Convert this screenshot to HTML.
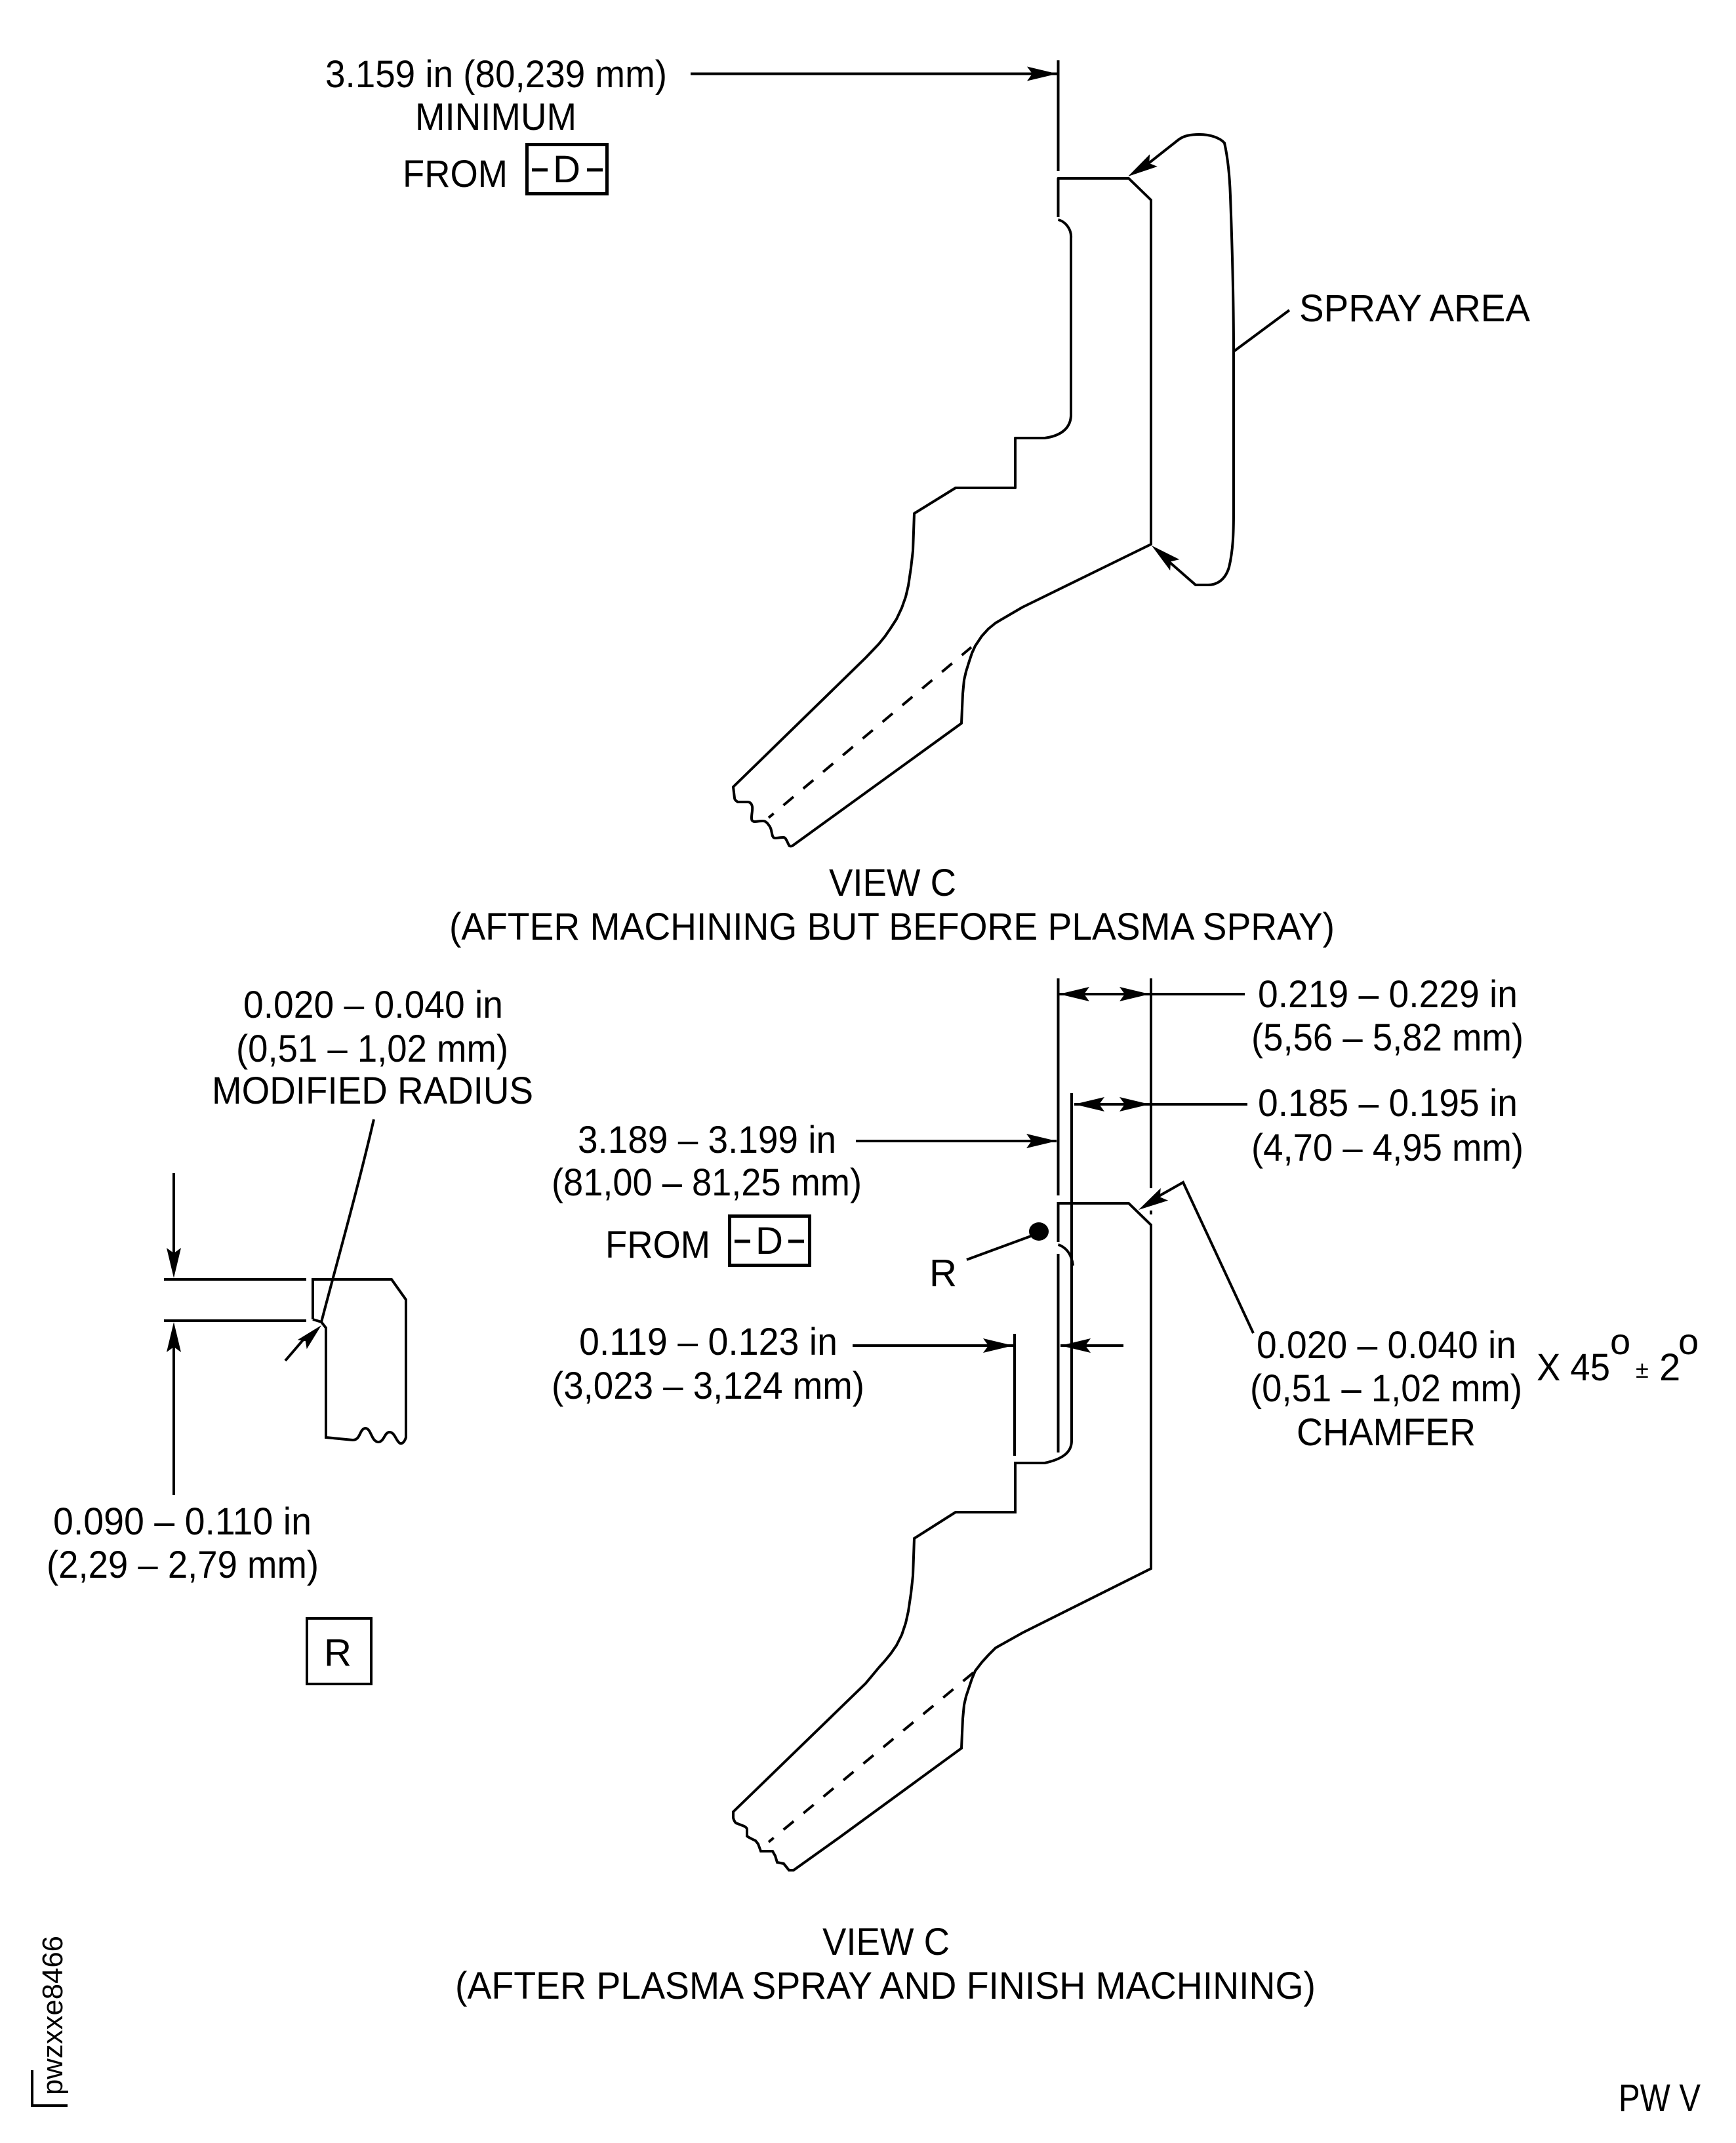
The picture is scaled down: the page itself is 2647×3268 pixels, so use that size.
<!DOCTYPE html>
<html>
<head>
<meta charset="utf-8">
<style>
html,body{margin:0;padding:0;background:#fff;}
svg{display:block;}
text{font-family:"Liberation Sans",sans-serif;font-size:58px;fill:#000;}
.l{fill:none;stroke:#000;stroke-width:4;stroke-linejoin:miter;}
.r{stroke-linejoin:round;}
</style>
</head>
<body>
<svg xmlns="http://www.w3.org/2000/svg" width="2647" height="3268" viewBox="0 0 2647 3268">
<defs>
<polygon id="a" points="0,0 -46,-11 -38,0 -46,11" fill="#000"/>
</defs>

<!-- TOP VIEW -->
<path class="l" d="M1053,112.500H1612M1613.500,92V261"/>
<use href="#a" transform="translate(1612,112.500)"/>
<path class="l r" d="M1613.500,331V272H1721L1755,305V830L1559,926L1518,950L1507,959L1497,970L1487,985L1482,996L1478,1008L1473,1024L1470,1037L1468,1058L1467,1080L1466,1103L1208,1290C1205,1291 1203,1290 1203,1289C1200,1283 1198,1277 1195,1277C1190,1277 1186,1278 1182,1278C1178,1278 1179,1275 1178,1275C1176,1268 1176,1262 1172,1258C1168,1252 1165,1252 1163,1252C1158,1252 1154,1253 1150,1253C1146,1252 1146,1250 1146,1247C1146,1240 1148,1235 1147,1230C1146,1225 1143,1223 1140,1223C1135,1223 1130,1223 1125,1223C1120,1220 1120,1218 1120,1217L1118,1200L1320,1003L1340,982L1349,971L1358,958L1367,944L1375,927L1381,910L1385,893L1389,866L1392,840L1394,783L1457,744H1548V668H1593C1615,665 1632,655 1633,634V363C1634,350 1625,338 1613.500,335"/>
<path class="l" stroke-dasharray="20,19.500" stroke-dashoffset="10" d="M1172,1247L1481,987"/>
<path class="l" d="M1740,258L1797,213C1805,207 1815,205 1829,205C1845,205 1860,210 1867,218C1872,240 1875,270 1876,299C1879,380 1881,460 1881,538V778C1881,815 1880,840 1874,865C1868,885 1855,892 1842,892H1823L1775,850"/>
<path class="l" d="M1881,536L1966,473"/>
<use href="#a" transform="translate(1720,269) rotate(148)"/>
<use href="#a" transform="translate(1756,832) rotate(220)"/>

<!-- BOTTOM VIEW -->
<path class="l" d="M1613.500,1492V1823M1634,1667V2197C1634,2215 1620,2225 1593,2231H1548V2306H1457L1394,2346L1392,2403L1389,2430L1385,2457L1381,2475L1375,2493L1367,2509L1358,2522L1349,2533L1340,2543L1320,2567L1118,2763L1118,2772C1119,2776 1120,2778 1122,2780L1135,2785C1138,2787 1139,2788 1139,2790V2800C1143,2803 1148,2805 1152,2807L1156,2812L1160,2823H1178L1182,2830L1185,2840L1195,2842L1203,2852H1210L1280,2802L1466,2666L1467,2643L1468,2621L1470,2600L1473,2587L1478,2572L1482,2560L1487,2548L1497,2535L1507,2524L1518,2513L1559,2490L1755,2392V1868L1721,1835H1613.500V1894"/>
<path class="l" d="M1613.500,1898C1625,1902 1634,1912 1636,1930M1613.500,1912V2215"/>
<path class="l" d="M1755,1492V1812M1547,2034V2220"/>
<path class="l" d="M1615,1516H1898M1638,1684H1902M1305,1740H1611M1300,2052H1545M1617,2052H1713"/>
<use href="#a" transform="translate(1615,1516) rotate(180)"/>
<use href="#a" transform="translate(1753,1516)"/>
<use href="#a" transform="translate(1638,1684) rotate(180)"/>
<use href="#a" transform="translate(1753,1684)"/>
<use href="#a" transform="translate(1611,1740)"/>
<use href="#a" transform="translate(1545,2052)"/>
<use href="#a" transform="translate(1617,2052) rotate(180)"/>
<path class="l" stroke-dasharray="20,19.500" stroke-dashoffset="10" d="M1172,2809L1485,2550"/>
<ellipse cx="1584" cy="1878" rx="15" ry="14" fill="#000"/>
<path class="l" d="M1474,1921L1580,1882"/>
<path class="l" d="M1760,1828L1804,1803L1911,2033"/>
<use href="#a" transform="translate(1736,1845) rotate(149)"/>
<rect x="1753" y="1846" width="4" height="6" fill="#000"/>

<!-- LEFT DETAIL -->
<path class="l" d="M265,1789V1920M265,2040V2280M250,1951H467M250,2014H467"/>
<use href="#a" transform="translate(265,1949) rotate(90)"/>
<use href="#a" transform="translate(265,2016) rotate(-90)"/>
<path class="l" d="M477,2012V1951H597L619,1982V2192C617,2198 614,2202 610,2201C604,2198 602,2184 594,2184C586,2184 586,2199 576.500,2199C566,2198 566,2178 557,2178C548,2179 550,2196 538,2196L497,2192V2025L490,2016L477,2012"/>
<path class="l" d="M570,1707C545,1815 515,1920 490,2016"/>
<path class="l" d="M435,2075L465,2040"/>
<use href="#a" transform="translate(490,2021) rotate(-45) scale(.9)"/>

<!-- BOXES -->
<rect x="803.500" y="220.500" width="122" height="75" fill="none" stroke="#000" stroke-width="5"/>
<path d="M811,259H835M895,259H919" fill="none" stroke="#000" stroke-width="5"/>
<rect x="1112.500" y="1854.500" width="122" height="75" fill="none" stroke="#000" stroke-width="5"/>
<path d="M1120,1893H1144M1202,1893H1226" fill="none" stroke="#000" stroke-width="5"/>
<rect x="468" y="2468" width="98" height="100" fill="none" stroke="#000" stroke-width="4"/>

<!-- MARK -->
<path class="l" d="M49,3157V3211H103" stroke-width="5"/>

<!-- TEXT -->
<text x="496" y="133" textLength="521" lengthAdjust="spacingAndGlyphs">3.159 in (80,239 mm)</text>
<text x="633" y="198" textLength="246" lengthAdjust="spacingAndGlyphs">MINIMUM</text>
<text x="614" y="285" textLength="160" lengthAdjust="spacingAndGlyphs">FROM</text>
<text x="843" y="278" textLength="42" lengthAdjust="spacingAndGlyphs">D</text>
<text x="1981" y="490" textLength="352" lengthAdjust="spacingAndGlyphs">SPRAY AREA</text>
<text x="1264" y="1366" textLength="194" lengthAdjust="spacingAndGlyphs">VIEW C</text>
<text x="685" y="1433" textLength="1350" lengthAdjust="spacingAndGlyphs">(AFTER MACHINING BUT BEFORE PLASMA SPRAY)</text>

<text x="371" y="1552" textLength="396" lengthAdjust="spacingAndGlyphs">0.020 – 0.040 in</text>
<text x="360" y="1619" textLength="415" lengthAdjust="spacingAndGlyphs">(0,51 – 1,02 mm)</text>
<text x="323" y="1683" textLength="490" lengthAdjust="spacingAndGlyphs">MODIFIED RADIUS</text>

<text x="881" y="1758" textLength="394" lengthAdjust="spacingAndGlyphs">3.189 – 3.199 in</text>
<text x="841" y="1823" textLength="473" lengthAdjust="spacingAndGlyphs">(81,00 – 81,25 mm)</text>
<text x="923" y="1918" textLength="160" lengthAdjust="spacingAndGlyphs">FROM</text>
<text x="1152" y="1912" textLength="42" lengthAdjust="spacingAndGlyphs">D</text>
<text x="1417" y="1961" textLength="42" lengthAdjust="spacingAndGlyphs">R</text>

<text x="1918" y="1536" textLength="396" lengthAdjust="spacingAndGlyphs">0.219 – 0.229 in</text>
<text x="1908" y="1602" textLength="415" lengthAdjust="spacingAndGlyphs">(5,56 – 5,82 mm)</text>
<text x="1918" y="1702" textLength="396" lengthAdjust="spacingAndGlyphs">0.185 – 0.195 in</text>
<text x="1908" y="1770" textLength="415" lengthAdjust="spacingAndGlyphs">(4,70 – 4,95 mm)</text>

<text x="883" y="2066" textLength="394" lengthAdjust="spacingAndGlyphs">0.119 – 0.123 in</text>
<text x="841" y="2133" textLength="477" lengthAdjust="spacingAndGlyphs">(3,023 – 3,124 mm)</text>

<text x="1916" y="2071" textLength="396" lengthAdjust="spacingAndGlyphs">0.020 – 0.040 in</text>
<text x="1906" y="2137" textLength="415" lengthAdjust="spacingAndGlyphs">(0,51 – 1,02 mm)</text>
<text x="1977" y="2204" textLength="273" lengthAdjust="spacingAndGlyphs">CHAMFER</text>

<text x="2343" y="2105" textLength="112" lengthAdjust="spacingAndGlyphs">X 45</text>
<text x="2455" y="2065" style="font-size:56px">o</text>
<text x="2494" y="2101" style="font-size:36px">±</text>
<text x="2530" y="2105">2</text>
<text x="2559" y="2065" style="font-size:56px">o</text>

<text x="81" y="2340" textLength="394" lengthAdjust="spacingAndGlyphs">0.090 – 0.110 in</text>
<text x="71" y="2406" textLength="415" lengthAdjust="spacingAndGlyphs">(2,29 – 2,79 mm)</text>
<text x="494" y="2540" textLength="42" lengthAdjust="spacingAndGlyphs">R</text>

<text x="1254" y="2981" textLength="194" lengthAdjust="spacingAndGlyphs">VIEW C</text>
<text x="694" y="3048" textLength="1312" lengthAdjust="spacingAndGlyphs">(AFTER PLASMA SPRAY AND FINISH MACHINING)</text>
<text x="2468" y="3219" textLength="125" lengthAdjust="spacingAndGlyphs">PW V</text>

<text transform="translate(95,3195) rotate(-90)" textLength="243" lengthAdjust="spacingAndGlyphs" style="font-size:44px">pwzxxe8466</text>
</svg>
</body>
</html>
